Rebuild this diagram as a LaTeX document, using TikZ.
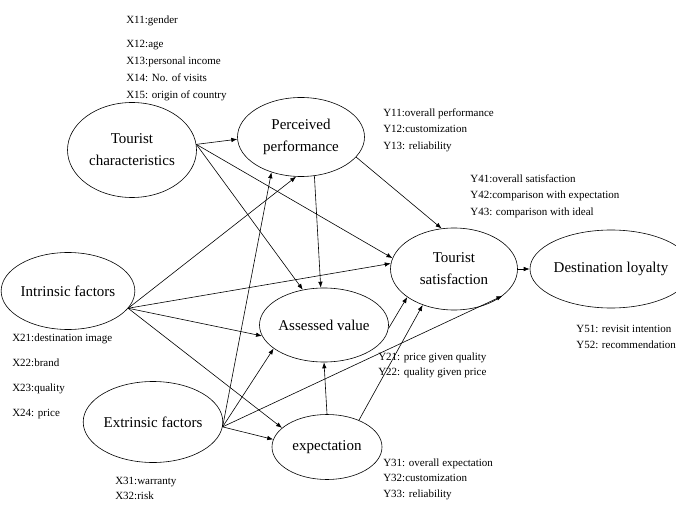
\documentclass[tikz,border=0pt]{standalone}
\usepackage{fontspec}
\setmainfont{Liberation Serif}
\usetikzlibrary{shapes.geometric, arrows.meta}

\begin{document}
\begin{tikzpicture}[> = {Latex[length = 6pt, width = 4.5pt]}, x = 1pt, y = -1pt, line width = 0.6pt,
	factor/.style = {draw, ellipse, inner sep = 0pt, align = center, font = \fontsize{15}{22}\selectfont},
	items/.style = {anchor = north west, inner sep = 0pt, align = left}]

	\useasboundingbox (0, 0) rectangle (676, 510);

	% Constructs

	\node [factor, minimum width = 129pt, minimum height = 95pt] (tc) at (132, 150) {Tourist\\characteristics};
	\node [factor, minimum width = 127pt, minimum height = 79pt] (pp) at (301, 137) {Perceived\\performance};
	\node [factor, minimum width = 128pt, minimum height = 77pt] (intr) at (68, 291) {Intrinsic factors};
	\node [factor, minimum width = 117pt, minimum height = 74pt] (av) at (324, 325) {Assessed value};
	\node [factor, minimum width = 127pt, minimum height = 81pt] (extr) at (153, 422) {Extrinsic factors};
	\node [factor, minimum width = 110pt, minimum height = 65pt] (expe) at (327, 447) {expectation};
	\node [factor, minimum width = 127pt, minimum height = 82pt] (ts) at (454, 269) {Tourist\\satisfaction};
	\node [factor, minimum width = 127pt, minimum height = 78pt] (dl) at (611, 269) {Destination loyalty};

	% Indicators

	\node [items, font = \fontsize{11}{17}\selectfont] (x11) at (126, 15.3) {X11:gender};
	\node [items, font = \fontsize{11}{17}\selectfont] (x1) at (126, 40.3) {X12:age\\X13:personal income\\X14: No. of visits\\X15: origin of country};
	\node [items, font = \fontsize{11}{16.5}\selectfont] (y1) at (383, 108.3) {Y11:overall performance\\Y12:customization\\Y13: reliability};
	\node [items, font = \fontsize{11}{16.5}\selectfont] (y4) at (470, 174.3) {Y41:overall satisfaction\\Y42:comparison with expectation\\Y43: comparison with ideal};
	\node [items, font = \fontsize{11}{25}\selectfont] (x2) at (12, 333.3) {X21:destination image\\X22:brand\\X23:quality\\X24: price};
	\node [items, font = \fontsize{11}{15.5}\selectfont] (y2) at (378, 352.3) {Y21: price given quality\\Y22: quality given price};
	\node [items, font = \fontsize{11}{16}\selectfont] (y5) at (576, 325.3) {Y51: revisit intention\\Y52: recommendation};
	\node [items, font = \fontsize{11}{15.5}\selectfont] (y3) at (383, 458.3) {Y31: overall expectation\\Y32:customization\\Y33: reliability};
	\node [items, font = \fontsize{11}{15}\selectfont] (x3) at (115, 477.3) {X31:warranty\\X32:risk};

	% Paths from tourist characteristics

	\draw [->] (tc.5) -- (pp.182);
	\draw [->] (tc.5) -- (ts.170);
	\draw [->] (tc.5) -- (av.121);

	% Paths from intrinsic factors

	\draw [->] (intr.-16) -- (pp.-97);
	\draw [->] (intr.-16) -- (ts.175);
	\draw [->] (intr.-16) -- (av.-170);
	\draw [->] (intr.-16) -- (expe.157);

	% Paths from extrinsic factors

	\draw [->] (extr.-4) -- (pp.-130);
	\draw [->] (extr.-4) -- (av.-155);
	\draw [->] (extr.-4) -- (ts.-29);
	\draw [->] (extr.-4) -- (expe.172);

	% Remaining paths

	\draw [->] (pp.-71) -- (av.95);
	\draw [->] (pp.-20) -- (ts.107);
	\draw [->] (expe.north) -- (av.south);
	\draw [->] (expe.40) -- (ts.-131);
	\draw [->] (av.-3) -- (ts.-149);
	\draw [->] (ts.east) -- (dl.west);

\end{tikzpicture}
\end{document}
